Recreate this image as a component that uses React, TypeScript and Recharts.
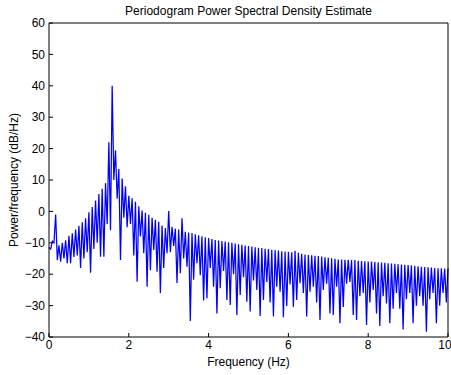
import { LineChart, Line, XAxis, YAxis } from 'recharts';

// periodogram bins, 0..10 Hz
const BIN_HZ = 10 / 240;
const FREQ_TICKS = [0, 2, 4, 6, 8, 10];
const DB_TICKS = [-40, -30, -20, -10, 0, 10, 20, 30, 40, 50, 60];
const TITLE = 'Periodogram Power Spectral Density Estimate';
const X_LABEL = 'Frequency (Hz)';
const Y_LABEL = 'Power/frequency (dB/Hz)';

// lobe top, then notch, for each ripple
const psdDb = [
    -11.5, -12, -9.5, -10, -1, -15.5, -10.8, -16, -10, -15,
    -9.2, -16.5, -7.8, -16.5, -7, -14.5, -5.8, -14, -4.6, -18,
    -3.5, -15, -2.2, -13, -0.3, -19.5, 1.4, -12, 3.5, -10,
    5.5, -14.4, 7.2, -14.4, 9, -4, 22, -6, 40, 10,
    19.5, 4, 13.5, -15.5, 10.5, -2, 8, -5, 5, -4,
    4.2, -14, 3.1, -22.4, 1.6, -8, 0.3, -13.3, -0.4, -24,
    -1.1, -18.7, -2, -12.3, -2.7, -19.2, -3.3, -26, -4.5, -18,
    -5.3, -13.3, 0.1, -13, -4.9, -11, -5.5, -22.8, -5.8, -19.7,
    -2.2, -15, -6.5, -17.6, -6.7, -34.9, -6.9, -21.8, -7.3, -16.5,
    -7.6, -20.3, -7.9, -28.4, -8.2, -27.7, -8.5, -18, -8.8, -24,
    -9.1, -32.5, -9.3, -24.5, -9.4, -19, -9.6, -28.2, -9.8, -29.8,
    -10, -20, -10.2, -33, -10.5, -26.6, -10.6, -21, -10.9, -28.8,
    -11, -31.9, -11.2, -22, -11.4, -25, -11.6, -33.3, -11.7, -28.2,
    -11.9, -22.5, -12, -29, -12.2, -33.5, -12.3, -24, -12.5, -25.6,
    -12.7, -33.7, -12.8, -30.1, -12.9, -23.3, -13, -30.4, -12.5, -28.2,
    -13.2, -22.9, -13.5, -26, -13.7, -33.5, -13.9, -25.6, -14, -24,
    -14.1, -29, -14.2, -34.6, -14.4, -25, -14.6, -23, -14.8, -32.5,
    -14.9, -33, -15.1, -24, -15.3, -35.6, -15.3, -30.4, -15.4, -23,
    -15.4, -22.5, -15.5, -33, -15.5, -34.6, -15.7, -27, -15.8, -26,
    -15.9, -36.2, -16, -29, -16, -25, -16.1, -32.5, -16.2, -36.5,
    -16.3, -27, -16.4, -29.3, -16.5, -35.6, -16.6, -31, -16.7, -26,
    -16.8, -31, -16.9, -37.6, -17, -28, -17.1, -26, -17.2, -35.6,
    -17.3, -30, -17.5, -27, -17.6, -30, -17.7, -38.3, -17.8, -28,
    -17.9, -26, -18, -35.6, -18.1, -30, -18.1, -26, -18.2, -29,
    -18.2,
];

const chartData = psdDb.map((db, i) => ({ freq: i * BIN_HZ, db }));

const minus = (v: number) => String(v).replace('-', '\u2212');

const tickStyle = { fill: '#000', fontSize: 12 };

export default function App() {
    return (
        <div style={{ position: 'absolute', left: 0, top: 0, width: 451, height: 375, background: '#fff' }}>
            <LineChart
                width={451}
                height={375}
                data={chartData}
                margin={{ top: 22, right: 2, bottom: 0, left: 0 }}
                style={{ fontFamily: '"Liberation Sans", Arial, Helvetica, sans-serif' }}
            >
                <XAxis
                    dataKey="freq"
                    type="number"
                    domain={[0, 10]}
                    ticks={FREQ_TICKS}
                    height={38}
                    tickSize={-4}
                    tickMargin={7}
                    tick={tickStyle}
                    stroke="#000"
                    label={{ value: X_LABEL, position: 'insideBottom', offset: 9, fill: '#000', fontSize: 12 }}
                />
                {/* top and right axes only close the box, as in MATLAB */}
                <XAxis
                    xAxisId="top"
                    orientation="top"
                    dataKey="freq"
                    type="number"
                    domain={[0, 10]}
                    ticks={FREQ_TICKS}
                    height={1}
                    tickSize={-4}
                    tick={false}
                    stroke="#000"
                    label={{ value: TITLE, position: 'top', offset: 7, fill: '#000', fontSize: 12 }}
                />
                <YAxis
                    type="number"
                    domain={[-40, 60]}
                    ticks={DB_TICKS}
                    width={49}
                    tickSize={-4}
                    tickMargin={8}
                    tick={tickStyle}
                    tickFormatter={minus}
                    stroke="#000"
                    label={{
                        value: Y_LABEL,
                        angle: -90,
                        position: 'insideLeft',
                        offset: 14,
                        fill: '#000',
                        fontSize: 12,
                        style: { textAnchor: 'middle' },
                    }}
                />
                <YAxis
                    yAxisId="right"
                    orientation="right"
                    type="number"
                    domain={[-40, 60]}
                    ticks={DB_TICKS}
                    width={1}
                    tickSize={-4}
                    tick={false}
                    stroke="#000"
                />
                <Line
                    type="linear"
                    dataKey="db"
                    stroke="#0000ff"
                    strokeWidth={1.25}
                    dot={false}
                    isAnimationActive={false}
                />
            </LineChart>
        </div>
    );
}
